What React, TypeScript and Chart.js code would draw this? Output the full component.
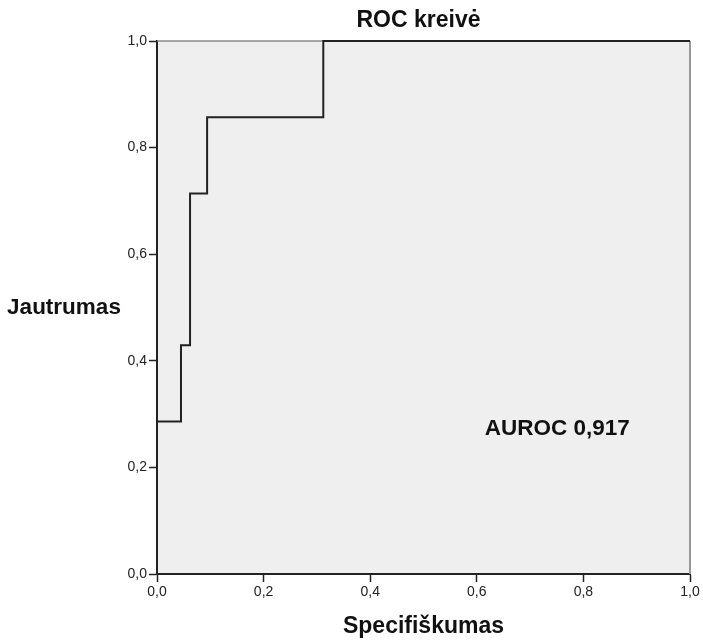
import React, { useEffect, useRef } from "react";
import { Chart, registerables } from "chart.js";

Chart.register(...registerables);

const chartTitle = "ROC kreivė";
const xTitle = "Specifiškumas";
const yTitle = "Jautrumas";
const aurocLabel = "AUROC 0,917";

// ROC curve corner points (1 - specificity, sensitivity)
const fpr = [0, 0, 0.045, 0.062, 0.094, 0.312, 1];
const tpr = [0, 0.286, 0.429, 0.714, 0.857, 1, 1];

const tickValues = [0, 0.2, 0.4, 0.6, 0.8, 1.0];
const fmt = (v: number) => v.toFixed(1).replace(".", ",");

const FONT = "'Liberation Sans', Arial, sans-serif";

const textPlugin = {
  id: "texts",
  beforeDatasetsDraw(chart: any) {
    const { ctx, chartArea: a } = chart;
    ctx.save();
    ctx.strokeStyle = "#8a8a8a";
    ctx.lineWidth = 1.5;
    ctx.beginPath();
    ctx.moveTo(a.left, a.top);
    ctx.lineTo(a.right, a.top);
    ctx.stroke();
    ctx.lineWidth = 2;
    ctx.strokeStyle = "#999";
    ctx.beginPath();
    ctx.moveTo(a.right, a.top);
    ctx.lineTo(a.right, a.bottom);
    ctx.stroke();
    ctx.restore();
  },
  afterDraw(chart: any) {
    const { ctx, chartArea: a, scales } = chart;
    ctx.save();
    ctx.fillStyle = "#111";
    ctx.textBaseline = "middle";
    ctx.textAlign = "center";
    const cx = (a.left + a.right) / 2;
    ctx.font = `bold 23px ${FONT}`;
    ctx.fillText(chartTitle, cx - 5, a.top - 20);
    ctx.fillText(xTitle, cx, a.bottom + 53);
    ctx.font = `bold 22.5px ${FONT}`;
    ctx.fillText(yTitle, 64, (a.top + a.bottom) / 2);
    ctx.textAlign = "left";
    ctx.fillText(aurocLabel, scales.x.getPixelForValue(0.615), scales.y.getPixelForValue(0.273));
    ctx.restore();
  },
};

export default function App() {
  const ref = useRef<HTMLCanvasElement | null>(null);
  useEffect(() => {
    if (!ref.current) return;
    const points = fpr.map((x, i) => ({ x, y: tpr[i] }));
    const chart = new Chart(ref.current, {
      type: "line",
      data: {
        datasets: [
          {
            data: points,
            borderColor: "#222",
            borderWidth: 2,
            pointRadius: 0,
            stepped: "before",
            fill: false,
            clip: false as any,
          },
        ],
      },
      options: {
        animation: false,
        responsive: false,
        layout: { padding: { top: 41, right: 13, left: 0, bottom: 0 } },
        plugins: {
          legend: { display: false },
          tooltip: { enabled: false },
          title: { display: false },
        },
        scales: {
          x: {
            type: "linear",
            min: 0,
            max: 1,
            afterBuildTicks: (s: any) => {
              s.ticks = tickValues.map((v) => ({ value: v }));
            },
            afterFit: (s: any) => {
              s.height = 66;
            },
            ticks: {
              callback: (v: any) => fmt(Number(v)),
              font: { family: FONT, size: 14 },
              color: "#222",
              padding: 2,
              maxRotation: 0,
            },
            grid: {
              drawOnChartArea: false,
              drawTicks: true,
              tickLength: 8,
              tickColor: "#222",
              tickWidth: 1.5,
            },
            border: { display: true, color: "#222", width: 2 },
          },
          y: {
            type: "linear",
            min: 0,
            max: 1,
            afterBuildTicks: (s: any) => {
              s.ticks = tickValues.map((v) => ({ value: v }));
            },
            afterFit: (s: any) => {
              s.width = 157;
            },
            ticks: {
              callback: (v: any) => fmt(Number(v)),
              font: { family: FONT, size: 14 },
              color: "#222",
              padding: 2,
            },
            grid: {
              drawOnChartArea: false,
              drawTicks: true,
              tickLength: 8,
              tickColor: "#222",
              tickWidth: 1.5,
            },
            border: { display: true, color: "#222", width: 2 },
          },
        },
      },
      plugins: [
        {
          id: "bg",
          beforeDraw(chart: any) {
            const { ctx, chartArea: a } = chart;
            ctx.save();
            ctx.fillStyle = "#fff";
            ctx.fillRect(0, 0, chart.width, chart.height);
            ctx.fillStyle = "#efefef";
            ctx.fillRect(a.left, a.top, a.right - a.left, a.bottom - a.top);
            ctx.restore();
          },
        },
        textPlugin,
      ],
    });
    return () => chart.destroy();
  }, []);
  return (
    <div style={{ position: "absolute", left: 0, top: 0, width: 703, height: 640 }}>
      <canvas ref={ref} width={703} height={640} style={{ width: 703, height: 640 }} />
    </div>
  );
}
